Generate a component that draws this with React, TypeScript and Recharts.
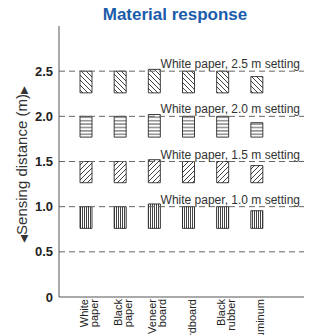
import React from 'react';
import { BarChart, Bar, XAxis, YAxis, ReferenceLine } from 'recharts';

const FONT = "'Liberation Sans', Arial, 'DejaVu Sans', sans-serif";

const categories = ['White paper', 'Black paper', 'Veneer board', 'Cardboard', 'Black rubber', 'Aluminum'];
const tickLabelLines = [['White', 'paper'], ['Black', 'paper'], ['Veneer', 'board'], ['Cardboard'], ['Black', 'rubber'], ['Aluminum']];

// detection band lower edges per setting
const lowerEdges = [0.76, 1.265, 1.77, 2.26];
// upper edges (sensing distance) per material
const top10 = [1.0, 1.0, 1.03, 1.0, 1.0, 0.955];
const top15 = [1.5, 1.5, 1.52, 1.5, 1.5, 1.455];
const top20 = [2.0, 2.0, 2.02, 2.0, 2.0, 1.93];
const top25 = [2.5, 2.5, 2.52, 2.5, 2.5, 2.44];

const settingValues = [2.5, 2.0, 1.5, 1.0, 0.5];
const settingLabels = [
  'White paper, 2.5 m setting',
  'White paper, 2.0 m setting',
  'White paper, 1.5 m setting',
  'White paper, 1.0 m setting',
  '',
];
const yTicks = [0, 0.5, 1, 1.5, 2, 2.5];

const data = categories.map((name, i) => ({
  name,
  s10: [lowerEdges[0], top10[i]],
  s15: [lowerEdges[1], top15[i]],
  s20: [lowerEdges[2], top20[i]],
  s25: [lowerEdges[3], top25[i]],
}));

const XTick = (props: any) => {
  const { x, y, index } = props;
  const lines = tickLabelLines[index] || [];
  const lh = 10;
  const n = lines.length;
  const cx = x + 3;
  return (
    <g transform={`translate(${cx},${y})`}>
      <text transform="rotate(-90)" textAnchor="end" fontSize={11} fontFamily={FONT} fill="#222">
        {lines.map((l: string, i: number) => (
          <tspan key={i} x={0} y={-(n - 1) * lh / 2 + 4 + i * lh}>{l}</tspan>
        ))}
      </text>
    </g>
  );
};

const RefLabel = (text: string) => (props: any) => {
  const vb = props.viewBox || {};
  if (!text) return null;
  return (
    <text x={vb.x + vb.width - 4} y={vb.y - 3} textAnchor="end" fontSize={12} fontFamily={FONT} fill="#333">
      {text}
    </text>
  );
};

const YTitle = (props: any) => {
  const vb = props.viewBox || { x: 0, y: 26, width: 59, height: 271 };
  const x = vb.x + 27;
  const y = vb.y + vb.height / 2 + 3;
  return (
    <text x={x} y={y} transform={`rotate(-90, ${x}, ${y})`} textAnchor="middle" fontSize={15} fontFamily={FONT} fill="#333">
      <tspan fontSize={10} fontFamily="'DejaVu Sans'">◀</tspan>
      <tspan>Sensing distance (m)</tspan>
      <tspan fontSize={10} fontFamily="'DejaVu Sans'">▶</tspan>
    </text>
  );
};

export default function App() {
  return (
    <div style={{ position: 'absolute', left: 0, top: 0, width: 314, height: 335, background: '#fff' }}>
      <div
        style={{
          position: 'absolute',
          left: 0,
          top: 6,
          width: 350,
          textAlign: 'center',
          fontFamily: FONT,
          fontWeight: 'bold',
          fontSize: 17,
          lineHeight: '17px',
          color: '#1a5cab',
        }}
      >
        Material response
      </div>
      <BarChart
        width={314}
        height={335}
        data={data}
        margin={{ top: 26, right: 10, bottom: 0, left: 0 }}
        barSize={12}
        barGap={-12}
      >
        <defs>
          <pattern id="p25" patternUnits="userSpaceOnUse" width={5} height={5}>
            <rect width={5} height={5} fill="#fff" />
            <path d="M0,0 L5,5 M-1,4 L1,6 M4,-1 L6,1" stroke="#111" strokeWidth={0.8} />
          </pattern>
          <pattern id="p20" patternUnits="userSpaceOnUse" width={4} height={3.4}>
            <rect width={4} height={3.4} fill="#fff" />
            <path d="M0,1.7 L4,1.7" stroke="#111" strokeWidth={0.8} />
          </pattern>
          <pattern id="p15" patternUnits="userSpaceOnUse" width={5} height={5}>
            <rect width={5} height={5} fill="#fff" />
            <path d="M0,5 L5,0 M-1,1 L1,-1 M4,6 L6,4" stroke="#111" strokeWidth={0.8} />
          </pattern>
          <pattern id="p10" patternUnits="userSpaceOnUse" width={2} height={4}>
            <rect width={2} height={4} fill="#fff" />
            <rect x={0} y={0} width={1} height={4} fill="#444" />
          </pattern>
        </defs>
        <XAxis
          dataKey="name"
          height={38}
          interval={0}
          padding={{ left: 10, right: 30 }}
          tickLine={false}
          tickSize={0}
          tickMargin={2}
          axisLine={{ stroke: '#555' }}
          tick={<XTick />}
        />
        <XAxis xAxisId="top" dataKey="name" orientation="top" height={0} tick={false} tickLine={false} axisLine={{ stroke: '#555' }} />
        <YAxis
          domain={[0, 3]}
          ticks={yTicks}
          width={59}
          tickLine={false}
          tickSize={4}
          tickMargin={2}
          axisLine={{ stroke: '#555' }}
          tickFormatter={(v: number) => (v === 0 ? '0' : v.toFixed(1))}
          tick={{ fontSize: 13, fontWeight: 'bold', fill: '#222', fontFamily: FONT }}
          label={<YTitle />}
        />
        <YAxis yAxisId="right" orientation="right" domain={[0, 3]} width={0} tick={false} tickLine={false} axisLine={{ stroke: '#555' }} />
        {settingValues.map((v, i) => (
          <ReferenceLine
            key={v}
            y={v}
            stroke="#666"
            strokeDasharray="6 4"
            strokeWidth={1}
            label={RefLabel(settingLabels[i])}
          />
        ))}
        <Bar dataKey="s10" fill="url(#p10)" stroke="#111" strokeWidth={0.8} isAnimationActive={false} />
        <Bar dataKey="s15" fill="url(#p15)" stroke="#111" strokeWidth={0.8} isAnimationActive={false} />
        <Bar dataKey="s20" fill="url(#p20)" stroke="#111" strokeWidth={0.8} isAnimationActive={false} />
        <Bar dataKey="s25" fill="url(#p25)" stroke="#111" strokeWidth={0.8} isAnimationActive={false} />
      </BarChart>
    </div>
  );
}
